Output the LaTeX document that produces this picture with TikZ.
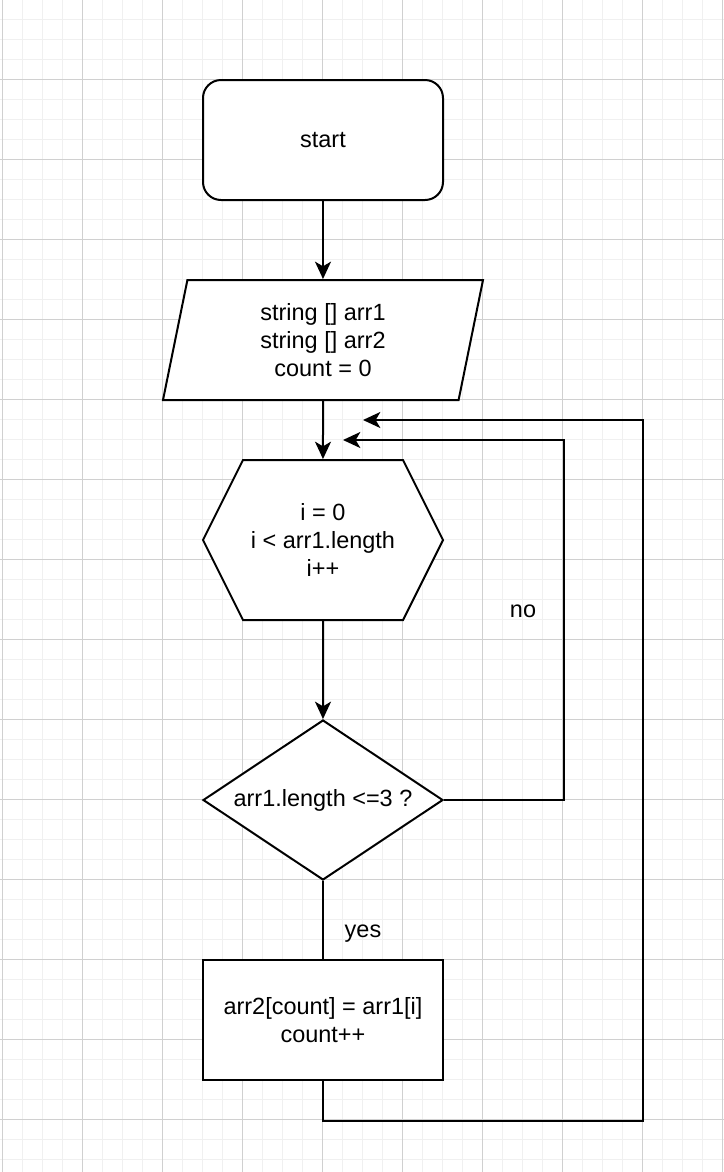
\documentclass[tikz,border=0pt]{standalone}
\usepackage{fontspec}
\setmainfont{Liberation Sans}
\usetikzlibrary{arrows.meta,shapes.geometric,shapes.symbols}

\definecolor{gridminor}{HTML}{F0F0F0}
\definecolor{gridmajor}{HTML}{D0D0D0}

\tikzset{
	chart/.style={draw, line width=1.5pt, fill=white, align=center, inner sep=0pt,
		font=\fontsize{17.6}{21}\selectfont},
	terminal/.style={chart, rectangle, rounded corners=13.5pt, minimum width=180pt, minimum height=90pt},
	inputbox/.style={chart, trapezium, trapezium left angle=71.57, trapezium right angle=108.43,
		trapezium stretches body, minimum width=240pt, minimum height=90pt},
	loopbox/.style={chart, signal, signal to=east and west, signal pointer angle=126.87,
		minimum width=180pt, minimum height=120pt},
	decision/.style={chart, diamond, aspect=1.5, minimum width=180pt, minimum height=120pt},
	process/.style={chart, rectangle, minimum width=180pt, minimum height=90pt},
	flow/.style={line width=1.5pt, -{Stealth[length=13pt, width=12pt, inset=3.5pt]}},
	plain/.style={line width=1.5pt},
	tag/.style={font=\fontsize{17.6}{21}\selectfont}
}

\begin{document}
\begin{tikzpicture}[x=0.75pt, y=-0.75pt]

\def \w {724}
\def \h {1172}

\useasboundingbox (0,0) rectangle (\w,\h);
\fill[white] (0,0) rectangle (\w,\h);

% grid
\foreach \gx in {2,22,...,722}
	\draw[gridminor, line width=0.75pt] (\gx,0) -- (\gx,\h);
\foreach \gy in {19,39,...,1159}
	\draw[gridminor, line width=0.75pt] (0,\gy) -- (\w,\gy);
\foreach \gx in {2,82,...,722}
	\draw[gridmajor, line width=0.6pt] (\gx,0) -- (\gx,\h);
\foreach \gy in {79,159,...,1159}
	\draw[gridmajor, line width=0.6pt] (0,\gy) -- (\w,\gy);

\node[terminal] (start) at (323,140) {start};
\node[inputbox] (input) at (323,340) {string [] arr1\\string [] arr2\\count = 0};
\node[loopbox] (loop) at (323,540) {i = 0\\i < arr1.length\\i++};
\node[decision] (check) at (323,800) {arr1.length <=3 ?};
\node[process] (copy) at (323,1020) {arr2[count] = arr1[i]\\count++};

\coordinate (backno) at (343,440);
\coordinate (backyes) at (363,420);

\node[tag] (no) at (523,611) {no};
\node[tag] (yes) at (363,934) {yes};

\draw[flow] (start) -- (input);
\draw[flow] (input) -- (loop);
\draw[flow] (loop) -- (check);
\draw[plain] (check) -- (copy);
\draw[flow] (check.east) -- ++(120,0) |- (backno);
\draw[flow] (copy.south) -- ++(0,40) -- ++(320,0) |- (backyes);

\end{tikzpicture}
\end{document}
